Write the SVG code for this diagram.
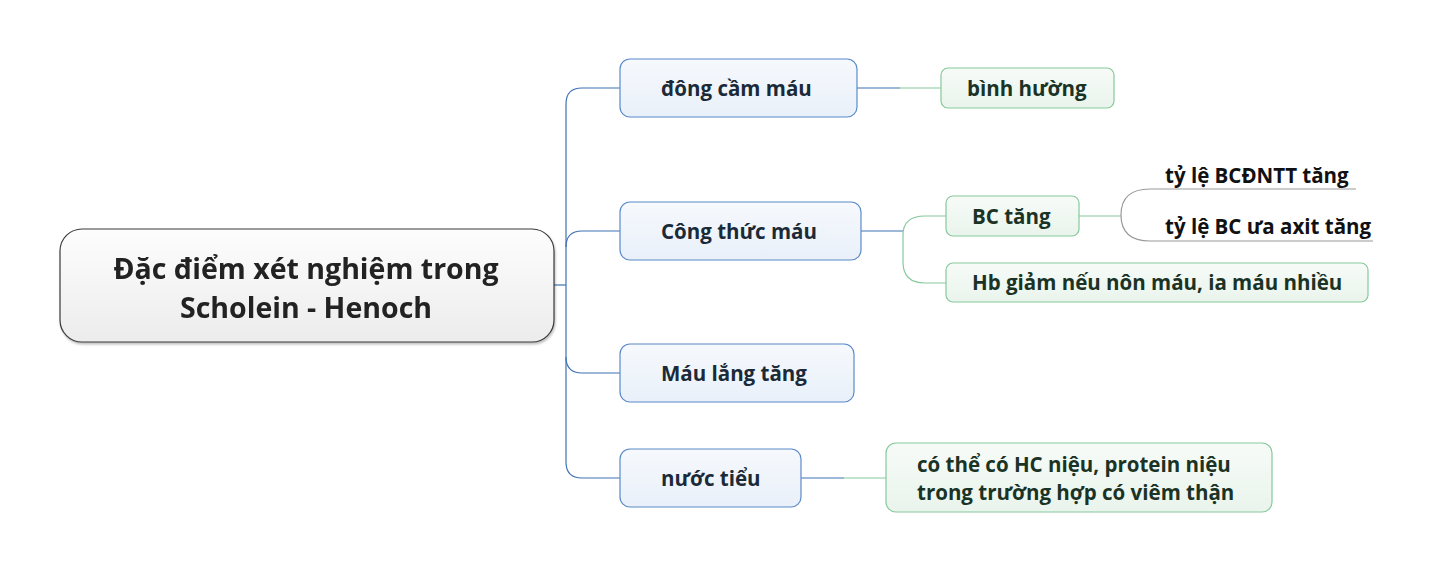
<svg xmlns="http://www.w3.org/2000/svg" width="1433" height="572" viewBox="0 0 1433 572">
<defs>
<linearGradient id="gRoot" x1="0" y1="0" x2="0" y2="1"><stop offset="0" stop-color="#fdfdfd"/><stop offset="1" stop-color="#ececec"/></linearGradient>
<linearGradient id="gBlue" x1="0" y1="0" x2="0" y2="1"><stop offset="0" stop-color="#f6f9fd"/><stop offset="1" stop-color="#e9f0f9"/></linearGradient>
<linearGradient id="gGreen" x1="0" y1="0" x2="0" y2="1"><stop offset="0" stop-color="#f7fbf8"/><stop offset="1" stop-color="#e9f4ec"/></linearGradient>
<filter id="sh" x="-5%" y="-5%" width="110%" height="120%"><feDropShadow dx="1" dy="2" stdDeviation="1.2" flood-color="#000" flood-opacity="0.25"/></filter>
</defs>
<style>
text{font-family:"Open Sans","Noto Sans","DejaVu Sans",sans-serif;font-weight:bold;}
.root rect{fill:url(#gRoot);stroke:#3a3a3a;stroke-width:1.2;}
.root text{font-size:28.5px;fill:#222;text-anchor:middle;}
.l1 rect{fill:url(#gBlue);stroke:#5b8ac9;stroke-width:1.2;}
.l1 text{font-size:20.5px;fill:#1b2a38;}
.l2 rect{fill:url(#gGreen);stroke:#86c99b;stroke-width:1.2;}
.l2 text{font-size:20.5px;fill:#1a3325;}
.l3 text{font-size:20.5px;fill:#111;}
.cb{fill:none;stroke:#3f72b5;stroke-width:1.2;}
.cg{fill:none;stroke:#86c99b;stroke-width:1.2;}
.cy{fill:none;stroke:#9a9a9a;stroke-width:1.2;}
</style>
<g id="connectors">
<path class="cb" d="M554,285 H566"/>
<path class="cb" d="M620,88 H582 Q566,88 566,104 V462 Q566,478 582,478 H620"/>
<path class="cb" d="M566,247 Q566,231 582,231 H620"/>
<path class="cb" d="M566,357 Q566,373 582,373 H620"/>
<path class="cb" d="M857,88 H900"/>
<path class="cg" d="M900,88 H941"/>
<path class="cb" d="M861,231 H903"/>
<path class="cg" d="M946,216 H925 Q903,216 903,235 V262 Q903,283 925,283 H946"/>
<path class="cb" d="M801,478 H844"/>
<path class="cg" d="M844,478 H886"/>
<path class="cg" d="M1079,216 H1121"/>
<path class="cy" d="M1356,189 H1150 Q1121,189 1121,215 Q1121,241 1150,241 H1373"/>
</g>
<g id="root" class="root" filter="url(#sh)">
<rect x="60" y="229" width="494" height="113" rx="22"/>
<text x="306" y="279">Đặc điểm xét nghiệm trong</text>
<text x="306" y="318">Scholein - Henoch</text>
</g>
<g id="n-dong-cam-mau" class="l1">
<rect x="620" y="59" width="237" height="58" rx="10"/>
<text x="661" y="96">đông cầm máu</text>
</g>
<g id="n-cong-thuc-mau" class="l1">
<rect x="620" y="202" width="241" height="58" rx="10"/>
<text x="661" y="239">Công thức máu</text>
</g>
<g id="n-mau-lang-tang" class="l1">
<rect x="620" y="344" width="234" height="58" rx="10"/>
<text x="661" y="381">Máu lắng tăng</text>
</g>
<g id="n-nuoc-tieu" class="l1">
<rect x="620" y="449" width="181" height="58" rx="10"/>
<text x="661" y="486">nước tiểu</text>
</g>
<g id="n-binh-huong" class="l2">
<rect x="941" y="68" width="173" height="40" rx="7"/>
<text x="967" y="96">bình hường</text>
</g>
<g id="n-bc-tang" class="l2">
<rect x="946" y="196" width="133" height="40" rx="7"/>
<text x="972" y="224">BC tăng</text>
</g>
<g id="n-hb-giam" class="l2">
<rect x="946" y="263" width="422" height="39" rx="7"/>
<text x="972" y="290">Hb giảm nếu nôn máu, ia máu nhiều</text>
</g>
<g id="n-nuoc-tieu-detail" class="l2">
<rect x="886" y="443" width="386" height="69" rx="10"/>
<text x="917" y="472">có thể có HC niệu, protein niệu</text>
<text x="917" y="500">trong trường hợp có viêm thận</text>
</g>
<g id="n-bcdntt" class="l3">
<text x="1165" y="183">tỷ lệ BCĐNTT tăng</text>
</g>
<g id="n-bc-ua-axit" class="l3">
<text x="1165" y="234">tỷ lệ BC ưa axit tăng</text>
</g>
</svg>
